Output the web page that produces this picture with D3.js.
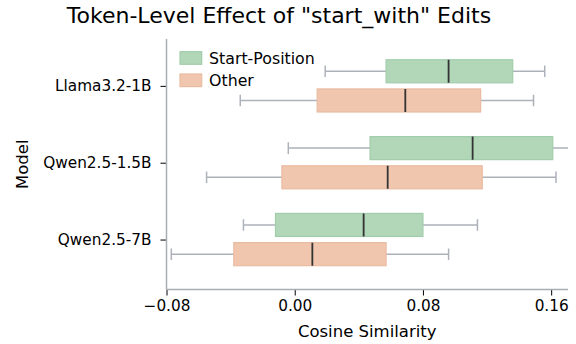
<!DOCTYPE html>
<html lang="en">
<head>
    <meta charset="UTF-8">
    <title>Token-Level Effect</title>
    <script src="https://d3js.org/d3.v7.min.js"></script>
    <style>
        body { margin: 0; background: #fff; }
        text { font-family: "DejaVu Sans", sans-serif; fill: #000; }
        .tick text { font-size: 15.3px; }
    </style>
</head>
<body>
<div id="fig"></div>
<script>
    // data
    let models = ["Llama3.2-1B", "Qwen2.5-1.5B", "Qwen2.5-7B"];
    let groups = ["Start-Position", "Other"];
    let xTicks = [-0.08, 0.00, 0.08, 0.16];

    let startLo  = [0.019, -0.004, -0.032];
    let startQ1  = [0.057, 0.047, -0.012];
    let startMed = [0.096, 0.111, 0.043];
    let startQ3  = [0.136, 0.161, 0.080];
    let startHi  = [0.156, 0.185, 0.114];

    let otherLo  = [-0.034, -0.055, -0.077];
    let otherQ1  = [0.014, -0.008, -0.038];
    let otherMed = [0.069, 0.058, 0.011];
    let otherQ3  = [0.116, 0.117, 0.057];
    let otherHi  = [0.149, 0.163, 0.096];

    let W = 576, H = 344;
    let pLeft = 166.5, pRight = 568, pTop = 39, pBottom = 289.5;

    let svg = d3.select("#fig").append("svg")
        .attr("width", W).attr("height", H);

    let x = d3.scaleLinear().domain([-0.08, 0.1705]).range([pLeft, pRight]);
    let y = d3.scaleLinear().domain([-0.61, 2.65]).range([pTop, pBottom]);

    let fills = {"Start-Position": "#b1d6b8", "Other": "#f0c6ae"};
    let edges = {"Start-Position": "#a2cdab", "Other": "#e9bba1"};
    let offset = {"Start-Position": -0.19, "Other": 0.19};
    let boxW = 0.3;

    let boxes = [];
    models.forEach(function (m, i) {
        boxes.push({model: i, group: "Start-Position", lo: startLo[i], q1: startQ1[i], med: startMed[i], q3: startQ3[i], hi: startHi[i]});
        boxes.push({model: i, group: "Other", lo: otherLo[i], q1: otherQ1[i], med: otherMed[i], q3: otherQ3[i], hi: otherHi[i]});
    });

    svg.append("clipPath").attr("id", "clip")
        .append("rect").attr("x", pLeft).attr("y", pTop)
        .attr("width", pRight - pLeft).attr("height", pBottom - pTop);

    let plot = svg.append("g").attr("clip-path", "url(#clip)");

    let g = plot.selectAll(".box").data(boxes).enter().append("g");
    let whisk = "#adb2ba";

    // whiskers
    g.append("line")
        .attr("x1", d => x(d.lo)).attr("x2", d => x(d.q1))
        .attr("y1", d => y(d.model + offset[d.group])).attr("y2", d => y(d.model + offset[d.group]))
        .attr("stroke", whisk).attr("stroke-width", 1.5);
    g.append("line")
        .attr("x1", d => x(d.q3)).attr("x2", d => x(d.hi))
        .attr("y1", d => y(d.model + offset[d.group])).attr("y2", d => y(d.model + offset[d.group]))
        .attr("stroke", whisk).attr("stroke-width", 1.5);
    // caps
    ["lo", "hi"].forEach(function (k) {
        g.append("line")
            .attr("x1", d => x(d[k])).attr("x2", d => x(d[k]))
            .attr("y1", d => y(d.model + offset[d.group] - boxW / 4))
            .attr("y2", d => y(d.model + offset[d.group] + boxW / 4))
            .attr("stroke", whisk).attr("stroke-width", 1.5);
    });
    // boxes
    g.append("rect")
        .attr("x", d => x(d.q1)).attr("width", d => x(d.q3) - x(d.q1))
        .attr("y", d => y(d.model + offset[d.group] - boxW / 2))
        .attr("height", d => y(boxW) - y(0))
        .attr("fill", d => fills[d.group])
        .attr("stroke", d => edges[d.group]).attr("stroke-width", 1.2);
    // medians
    g.append("line")
        .attr("x1", d => x(d.med)).attr("x2", d => x(d.med))
        .attr("y1", d => y(d.model + offset[d.group] - boxW / 2))
        .attr("y2", d => y(d.model + offset[d.group] + boxW / 2))
        .attr("stroke", "#333").attr("stroke-width", 1.8);

    // axes
    let xAxis = d3.axisBottom(x).tickValues(xTicks)
        .tickFormat(d => d3.format(".2f")(d).replace("-", "\u2212"))
        .tickSize(6).tickPadding(5);
    let xg = svg.append("g").attr("transform", `translate(0,${pBottom})`).call(xAxis);
    xg.select(".domain").remove();
    xg.selectAll(".tick line").attr("stroke", "#000").attr("stroke-width", 1);

    let yAxis = d3.axisLeft(y).tickValues([0, 1, 2])
        .tickFormat(i => models[i]).tickSize(6).tickPadding(9);
    let yg = svg.append("g").attr("transform", `translate(${pLeft},0)`).call(yAxis);
    yg.select(".domain").remove();
    yg.selectAll(".tick line").attr("stroke", "#000").attr("stroke-width", 1);

    // spines
    svg.append("line").attr("x1", pLeft).attr("x2", pLeft).attr("y1", pTop).attr("y2", pBottom)
        .attr("stroke", "#a9adb5").attr("stroke-width", 1.5);
    svg.append("line").attr("x1", pLeft).attr("x2", pRight).attr("y1", pBottom).attr("y2", pBottom)
        .attr("stroke", "#a9adb5").attr("stroke-width", 1.5);

    // labels
    svg.append("text").attr("x", 279).attr("y", 22.5).attr("text-anchor", "middle")
        .style("font-size", "22px").text('Token-Level Effect of "start_with" Edits');
    svg.append("text").attr("x", (pLeft + pRight) / 2).attr("y", 337).attr("text-anchor", "middle")
        .style("font-size", "16.5px").text("Cosine Similarity");
    svg.append("text").attr("transform", `translate(28,${(pTop + pBottom) / 2}) rotate(-90)`)
        .attr("text-anchor", "middle").style("font-size", "16.5px").text("Model");

    // legend
    let leg = svg.append("g").selectAll("g").data(groups).enter().append("g")
        .attr("transform", (d, i) => `translate(180,${51.7 + i * 22.3})`);
    leg.append("rect").attr("width", 21.7).attr("height", 12.6)
        .attr("fill", d => fills[d]).attr("stroke", d => edges[d]).attr("stroke-width", 1.2);
    leg.append("text").attr("x", 29).attr("y", 12.4)
        .style("font-size", "15.8px").text(d => d);
</script>
</body>
</html>
